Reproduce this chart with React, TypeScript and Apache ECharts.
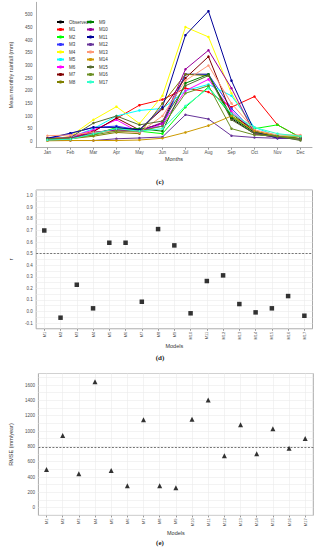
import React, { useEffect, useRef } from 'react';
import * as echarts from 'echarts';

// ---------- Panel (c): mean monthly rainfall ----------
const months = ['Jan', 'Feb', 'Mar', 'Apr', 'May', 'Jun', 'Jul', 'Aug', 'Sep', 'Oct', 'Nov', 'Dec'];
const lineNames = ['Observed', 'M1', 'M2', 'M3', 'M4', 'M5', 'M6', 'M7', 'M8', 'M9', 'M10', 'M11', 'M12', 'M13', 'M14', 'M15', 'M16', 'M17'];
const lineColors = ['#000000', '#FF0000', '#00FF00', '#3333FF', '#FFFF00', '#00FFFF', '#FF00FF', '#800000', '#808000', '#008000', '#990099', '#000099', '#663399', '#FF9977', '#CC9900', '#556B2F', '#6B8E23', '#33FFCC'];

const observed = [8, 10, 35, 45, 45, 70, 265, 265, 90, 30, 15, 10];
const m1 = [12, 15, 40, 90, 143, 165, 210, 195, 135, 177, 65, 15];
const m2 = [5, 15, 25, 55, 40, 30, 135, 215, 100, 50, 65, 15];
const m3 = [10, 30, 55, 60, 45, 60, 265, 265, 130, 35, 15, 10];
const m4 = [5, 20, 85, 137, 70, 180, 452, 413, 190, 40, 20, 10];
const m5 = [5, 15, 50, 100, 122, 130, 200, 225, 180, 55, 20, 20];
const m6 = [5, 18, 45, 85, 35, 70, 200, 245, 120, 30, 18, 10];
const m7 = [8, 10, 38, 92, 45, 128, 250, 335, 110, 40, 20, 10];
const m8 = [12, 10, 20, 35, 30, 150, 265, 260, 100, 35, 20, 12];
const m9 = [5, 10, 30, 50, 50, 40, 230, 265, 95, 35, 18, 10];
const m10 = [8, 12, 35, 45, 40, 75, 285, 360, 210, 30, 15, 8];
const m11 = [12, 32, 55, 55, 45, 135, 420, 515, 240, 40, 12, 10];
const m12 = [3, 3, 3, 10, 13, 17, 105, 88, 22, 15, 12, 10];
const m13 = [22, 25, 35, 40, 35, 100, 240, 300, 150, 45, 25, 25];
const m14 = [2, 3, 3, 3, 5, 12, 35, 62, 100, 40, 20, 20];
const m15 = [10, 15, 72, 100, 65, 80, 220, 260, 85, 30, 20, 3];
const m16 = [8, 10, 25, 40, 40, 60, 190, 220, 50, 25, 20, 8];
const m17 = [5, 8, 30, 50, 40, 50, 140, 210, 110, 55, 30, 20];
const lineData = [observed, m1, m2, m3, m4, m5, m6, m7, m8, m9, m10, m11, m12, m13, m14, m15, m16, m17];

// ---------- Panels (d) and (e) ----------
const models = ['M1', 'M2', 'M3', 'M4', 'M5', 'M6', 'M7', 'M8', 'M9', 'M10', 'M11', 'M12', 'M13', 'M14', 'M15', 'M16', 'M17'];
const rValues = [0.70, -0.054, 0.231, 0.027, 0.594, 0.594, 0.084, 0.712, 0.571, -0.016, 0.263, 0.312, 0.064, -0.008, 0.027, 0.133, -0.037];
const rThreshold = 0.5;
const rmseValues = [500, 943, 443, 1643, 487, 287, 1148, 287, 261, 1152, 1404, 678, 1083, 704, 1030, 774, 904];
const rmseThreshold = 790;

const SANS = 'Liberation Sans, Arial, sans-serif';
const SERIF = 'Liberation Serif, Times New Roman, serif';
const TICK = '#4d4d4d';
const GRIDLINE = '#ebebeb';

export default function App() {
  const ref = useRef<HTMLDivElement>(null);

  useEffect(() => {
    if (!ref.current) return;
    const chart = echarts.init(ref.current, null, { renderer: 'svg' });

    const lineSeries = lineNames.map((name, i) => ({
      name,
      type: 'line',
      xAxisIndex: 0,
      yAxisIndex: 0,
      data: lineData[i],
      symbol: 'circle',
      symbolSize: 2.5,
      showSymbol: true,
      lineStyle: { width: 1, color: lineColors[i] },
      itemStyle: { color: lineColors[i] },
      z: 2,
    }));

    const vLines = models.map((m) => ({ xAxis: m, lineStyle: { color: GRIDLINE, type: 'solid', width: 0.6 } }));

    const modelXAxis = (gridIndex: number) => ({
      type: 'category',
      gridIndex,
      data: models,
      boundaryGap: true,
      axisLine: { show: false, onZero: false },
      axisTick: { show: true, alignWithLabel: true, length: 2, lineStyle: { color: '#999' } },
      axisLabel: { rotate: 90, fontSize: 4, color: TICK, margin: 3, fontFamily: SANS },
      splitLine: { show: false },
      name: 'Models',
      nameLocation: 'middle',
      nameGap: 14,
      nameTextStyle: { fontSize: 5.5, color: '#333', fontFamily: SANS },
    });

    const option: any = {
      animation: false,
      textStyle: { fontFamily: SANS },
      grid: [
        { left: 21, top: 2.3, width: 291, height: 145.3, show: false },
        { left: 21, top: 190, width: 291.5, height: 138.8, show: true, borderColor: '#aaa', borderWidth: 1 },
        { left: 22.7, top: 373.5, width: 290.6, height: 141.9, show: true, borderColor: '#aaa', borderWidth: 1 },
      ],
      legend: [
        {
          data: lineNames.slice(0, 9), left: 56, top: 19.5, orient: 'vertical', padding: 0,
          itemWidth: 7, itemHeight: 4, itemGap: 2.5,
          textStyle: { fontSize: 4.5, color: '#333', fontFamily: SANS },
        },
        {
          data: lineNames.slice(9), left: 86, top: 19.5, orient: 'vertical', padding: 0,
          itemWidth: 7, itemHeight: 4, itemGap: 2.5,
          textStyle: { fontSize: 4.5, color: '#333', fontFamily: SANS },
        },
      ],
      xAxis: [
        {
          type: 'category',
          gridIndex: 0,
          data: months,
          boundaryGap: true,
          axisLine: { show: true, onZero: false, lineStyle: { color: '#999', width: 0.8 } },
          axisTick: { show: true, alignWithLabel: true, length: 2, lineStyle: { color: '#999' } },
          axisLabel: { fontSize: 4.5, color: TICK, margin: 2.5, fontFamily: SANS },
          name: 'Months',
          nameLocation: 'middle',
          nameGap: 8.5,
          nameTextStyle: { fontSize: 5.5, color: '#333', fontFamily: SANS },
        },
        modelXAxis(1),
        modelXAxis(2),
      ],
      yAxis: [
        {
          type: 'value',
          gridIndex: 0,
          min: -25,
          max: 550,
          interval: 25,
          axisLine: { show: true, lineStyle: { color: '#999', width: 0.8 } },
          axisTick: { show: false },
          splitLine: { show: false },
          axisLabel: {
            fontSize: 4.5, color: TICK, margin: 3.5, fontFamily: SANS,
            formatter: (v: number) => (v >= 0 && v <= 500 && v % 50 === 0 ? String(v) : ''),
          },
          name: 'Mean monthly rainfall (mm)',
          nameLocation: 'middle',
          nameGap: 12,
          nameTextStyle: { fontSize: 5.5, color: '#333', fontFamily: SANS },
        },
        {
          type: 'value',
          gridIndex: 1,
          min: -0.15,
          max: 1.05,
          interval: 0.05,
          axisLine: { show: false },
          axisTick: { show: false },
          splitLine: { show: true, lineStyle: { color: GRIDLINE, width: 0.6 } },
          axisLabel: {
            fontSize: 4.5, color: TICK, margin: 3.5, fontFamily: SANS,
            formatter: (v: number) => {
              const t = v * 10;
              if (Math.abs(t - Math.round(t)) > 1e-6) return '';
              if (v < -0.1 - 1e-9 || v > 1.0 + 1e-9) return '';
              return (Math.round(t) / 10).toFixed(1);
            },
          },
          name: 'r',
          nameLocation: 'middle',
          nameGap: 12,
          nameTextStyle: { fontSize: 5.5, color: '#333', fontFamily: SANS },
        },
        {
          type: 'value',
          gridIndex: 2,
          min: -100,
          max: 1750,
          interval: 100,
          axisLine: { show: false },
          axisTick: { show: false },
          splitLine: { show: true, lineStyle: { color: GRIDLINE, width: 0.6 } },
          axisLabel: {
            fontSize: 4.5, color: TICK, margin: 3.5, fontFamily: SANS,
            formatter: (v: number) => (v >= 0 && v <= 1600 && v % 200 === 0 ? String(v) : ''),
          },
          name: 'RMSE (mm/year)',
          nameLocation: 'middle',
          nameGap: 13,
          nameTextStyle: { fontSize: 5.5, color: '#333', fontFamily: SANS },
        },
      ],
      series: [
        ...lineSeries,
        {
          type: 'scatter',
          xAxisIndex: 1,
          yAxisIndex: 1,
          data: rValues,
          symbolSize: 0,
          itemStyle: { opacity: 0 },
          silent: true,
          z: 1,
          markLine: {
            z: 1,
            silent: true, symbol: 'none', label: { show: false }, animation: false,
            data: [
              ...vLines,
              { yAxis: rThreshold, lineStyle: { color: '#666', type: [2, 1.5], width: 0.9 } },
            ],
          },
        },
        {
          name: 'r',
          type: 'scatter',
          xAxisIndex: 1,
          yAxisIndex: 1,
          data: rValues,
          symbol: 'rect',
          symbolSize: 4.5,
          itemStyle: { color: '#000' },
          z: 10,
        },
        {
          type: 'scatter',
          xAxisIndex: 2,
          yAxisIndex: 2,
          data: rmseValues,
          symbolSize: 0,
          itemStyle: { opacity: 0 },
          silent: true,
          z: 1,
          markLine: {
            z: 1,
            silent: true, symbol: 'none', label: { show: false }, animation: false,
            data: [
              ...vLines,
              { yAxis: rmseThreshold, lineStyle: { color: '#666', type: [2, 1.5], width: 0.9 } },
            ],
          },
        },
        {
          name: 'RMSE',
          type: 'scatter',
          xAxisIndex: 2,
          yAxisIndex: 2,
          data: rmseValues,
          symbol: 'triangle',
          symbolSize: 5,
          itemStyle: { color: '#000' },
          z: 10,
        },
      ],
      graphic: [
        { type: 'text', x: 160, y: 182, style: { text: '(c)', fontSize: 7, fontFamily: SERIF, fontWeight: 'bold', fill: '#222', textAlign: 'center', textVerticalAlign: 'middle' } },
        { type: 'text', x: 160, y: 358, style: { text: '(d)', fontSize: 7, fontFamily: SERIF, fontWeight: 'bold', fill: '#222', textAlign: 'center', textVerticalAlign: 'middle' } },
        { type: 'text', x: 160, y: 543, style: { text: '(e)', fontSize: 7, fontFamily: SERIF, fontWeight: 'bold', fill: '#222', textAlign: 'center', textVerticalAlign: 'middle' } },
      ],
    };

    chart.setOption(option);
    return () => chart.dispose();
  }, []);

  return <div ref={ref} style={{ position: 'absolute', left: 0, top: 0, width: 318, height: 550 }} />;
}
